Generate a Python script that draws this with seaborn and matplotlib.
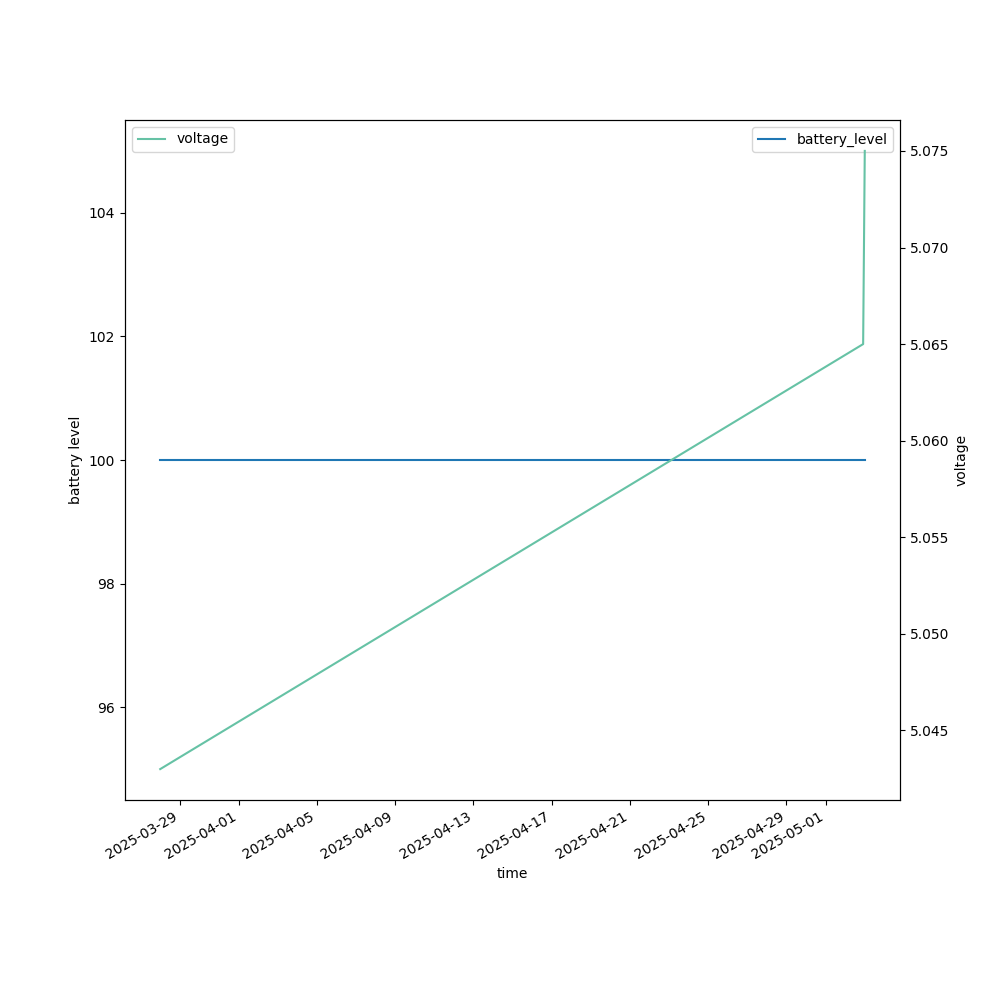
import matplotlib
matplotlib.use("Agg")
import matplotlib.pyplot as plt
import seaborn as sns
import pandas as pd

times = pd.to_datetime(["2025-03-28 00:00", "2025-05-02 22:00", "2025-05-03 00:00"])
battery_level = [100, 100, 100]
voltage = [5.043, 5.065, 5.075]

df = pd.DataFrame({"time": times, "battery_level": battery_level, "voltage": voltage})

fig, ax = plt.subplots(figsize=(10, 10), dpi=100)
sns.lineplot(data=df, x="time", y="battery_level", ax=ax, color="#1f77b4", label="battery_level")
ax.set_ylabel("battery level")
ax.set_xlabel("time")
ax.legend(loc="upper right")

ax2 = ax.twinx()
sns.lineplot(data=df, x="time", y="voltage", ax=ax2, color=sns.color_palette("Set2")[0], label="voltage")
ax2.set_ylabel("voltage")
ax2.legend(loc="upper left")

fig.autofmt_xdate()
fig.savefig("out.png", dpi=100)
